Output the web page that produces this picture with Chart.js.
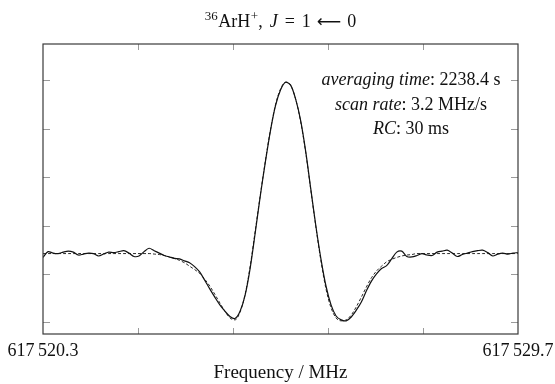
<!DOCTYPE html>
<html>
<head>
<meta charset="utf-8">
<script src="https://cdn.jsdelivr.net/npm/chart.js@4.4.0/dist/chart.umd.min.js"></script>
<style>
  html, body { margin: 0; padding: 0; background: #fff; }
</style>
</head>
<body>
<canvas id="chart" width="555" height="384"></canvas>
<script>
// frequency grid (MHz)
const freqs = [
    617520.3, 617520.4, 617520.5, 617520.6, 617520.7, 617520.8, 617520.9, 617521.0, 617521.1, 617521.2,
    617521.3, 617521.4, 617521.5, 617521.6, 617521.7, 617521.8, 617521.9, 617522.0, 617522.1, 617522.2,
    617522.3, 617522.4, 617522.5, 617522.6, 617522.7, 617522.8, 617522.9, 617523.0, 617523.1, 617523.2,
    617523.3, 617523.4, 617523.5, 617523.6, 617523.7, 617523.8, 617523.9, 617524.0, 617524.1, 617524.2,
    617524.3, 617524.4, 617524.5, 617524.6, 617524.7, 617524.8, 617524.9, 617525.0, 617525.1, 617525.2,
    617525.3, 617525.4, 617525.5, 617525.6, 617525.7, 617525.8, 617525.9, 617526.0, 617526.1, 617526.2,
    617526.3, 617526.4, 617526.5, 617526.6, 617526.7, 617526.8, 617526.9, 617527.0, 617527.1, 617527.2,
    617527.3, 617527.4, 617527.5, 617527.6, 617527.7, 617527.8, 617527.9, 617528.0, 617528.1, 617528.2,
    617528.3, 617528.4, 617528.5, 617528.6, 617528.7, 617528.8, 617528.9, 617529.0, 617529.1, 617529.2,
    617529.3, 617529.4, 617529.5, 617529.6, 617529.7
];

// measured signal (arb. units)
const measured = [
    1.34, 1.46, 1.43, 1.42, 1.45, 1.47, 1.45, 1.39, 1.41, 1.43,
    1.42, 1.37, 1.41, 1.45, 1.44, 1.46, 1.48, 1.43, 1.36, 1.37,
    1.46, 1.53, 1.48, 1.43, 1.38, 1.35, 1.32, 1.31, 1.27, 1.23,
    1.15, 1.04, 0.87, 0.69, 0.52, 0.36, 0.23, 0.12, 0.08, 0.23,
    0.56, 1.12, 1.85, 2.61, 3.31, 3.95, 4.47, 4.80, 4.96, 4.90,
    4.61, 4.16, 3.52, 2.75, 1.99, 1.31, 0.75, 0.36, 0.13, 0.05,
    0.03, 0.11, 0.25, 0.42, 0.65, 0.85, 1.00, 1.11, 1.17, 1.31,
    1.45, 1.47, 1.36, 1.35, 1.38, 1.42, 1.39, 1.38, 1.45, 1.47,
    1.49, 1.43, 1.36, 1.40, 1.43, 1.46, 1.48, 1.49, 1.44, 1.37,
    1.41, 1.43, 1.41, 1.43, 1.44
];

// fitted line profile (arb. units)
const fitted = [
    1.42, 1.42, 1.42, 1.42, 1.42, 1.42, 1.42, 1.42, 1.42, 1.42,
    1.42, 1.42, 1.42, 1.42, 1.42, 1.42, 1.42, 1.42, 1.42, 1.42,
    1.42, 1.42, 1.41, 1.40, 1.38, 1.35, 1.32, 1.28, 1.23, 1.16,
    1.09, 1.01, 0.89, 0.75, 0.58, 0.40, 0.23, 0.09, 0.05, 0.21,
    0.58, 1.16, 1.89, 2.63, 3.33, 3.97, 4.49, 4.82, 4.96, 4.90,
    4.61, 4.14, 3.50, 2.73, 1.97, 1.27, 0.69, 0.30, 0.09, 0.03,
    0.05, 0.15, 0.32, 0.52, 0.73, 0.92, 1.06, 1.16, 1.25, 1.30,
    1.34, 1.37, 1.39, 1.40, 1.42, 1.42, 1.42, 1.42, 1.42, 1.42,
    1.42, 1.42, 1.42, 1.42, 1.42, 1.42, 1.42, 1.42, 1.42, 1.42,
    1.42, 1.42, 1.42, 1.42, 1.42
];

const xTickValues = [617520.3, 617522.18, 617524.06, 617525.94, 617527.82, 617529.7];
const xTickLabels = ['617\u2009520.3', '', '', '', '', '617\u2009529.7'];
const yTickValues = [0, 1, 2, 3, 4, 5];

const xAxisTitle = 'Frequency / MHz';
const infoLines = [
    ['averaging time', ': 2238.4 s'],
    ['scan rate', ': 3.2 MHz/s'],
    ['RC', ': 30 ms']
];

const SERIF = '"Liberation Serif", "DejaVu Serif", serif';

// 제목, 주석, 안쪽 눈금, 테두리
const framePlugin = {
    id: 'frame',
    afterDraw(chart) {
        const { ctx, chartArea: a, scales: { x, y } } = chart;
        ctx.save();

        // inner ticks
        ctx.strokeStyle = '#9a9a9a';
        ctx.lineWidth = 1;
        ctx.beginPath();
        x.ticks.forEach((t, i) => {
            if (i === 0 || i === x.ticks.length - 1) return;
            const px = Math.round(x.getPixelForValue(t.value)) + 0.5;
            ctx.moveTo(px, a.bottom); ctx.lineTo(px, a.bottom - 6);
            ctx.moveTo(px, a.top); ctx.lineTo(px, a.top + 6);
        });
        y.ticks.forEach(t => {
            const py = Math.round(y.getPixelForValue(t.value)) + 0.5;
            ctx.moveTo(a.left, py); ctx.lineTo(a.left + 7, py);
            ctx.moveTo(a.right, py); ctx.lineTo(a.right - 7, py);
        });
        ctx.stroke();

        // frame
        ctx.strokeStyle = '#3a3a3a';
        ctx.lineWidth = 1.2;
        ctx.strokeRect(a.left, a.top, a.right - a.left, a.bottom - a.top);

        ctx.fillStyle = '#111';
        ctx.textBaseline = 'alphabetic';
        ctx.textAlign = 'left';

        // title: 36ArH+, J = 1 <- 0
        const parts = [
            { t: '36', f: '13px ' + SERIF, dy: -7, gap: 0.5 },
            { t: 'ArH', f: '18px ' + SERIF, dy: 0, gap: 0.5 },
            { t: '+', f: '13px ' + SERIF, dy: -7, gap: 0 },
            { t: ',', f: '18px ' + SERIF, dy: 0, gap: 7 },
            { t: 'J', f: 'italic 18px ' + SERIF, dy: 0, gap: 7 },
            { t: '=', f: '18px ' + SERIF, dy: 0, gap: 7 },
            { t: '1', f: '18px ' + SERIF, dy: 0, gap: 6 },
            { t: '\u27F5', f: '17px "DejaVu Sans", sans-serif', dy: -0.5, gap: 6 },
            { t: '0', f: '18px ' + SERIF, dy: 0, gap: 0 }
        ];
        let w = 0;
        parts.forEach(p => { ctx.font = p.f; p.w = ctx.measureText(p.t).width; w += p.w + p.gap; });
        let cx = (a.left + a.right) / 2 - w / 2;
        parts.forEach(p => { ctx.font = p.f; ctx.fillText(p.t, cx, 27 + p.dy); cx += p.w + p.gap; });

        // info block
        const baseY = [85, 109.5, 134];
        infoLines.forEach((ln, i) => {
            ctx.font = 'italic 18px ' + SERIF;
            const w1 = ctx.measureText(ln[0]).width;
            ctx.font = '18px ' + SERIF;
            const w2 = ctx.measureText(ln[1]).width;
            const sx = 411 - (w1 + w2) / 2;
            ctx.font = 'italic 18px ' + SERIF;
            ctx.fillText(ln[0], sx, baseY[i]);
            ctx.font = '18px ' + SERIF;
            ctx.fillText(ln[1], sx + w1, baseY[i]);
        });

        ctx.restore();
    }
};

const ctx = document.getElementById('chart').getContext('2d');
new Chart(ctx, {
    type: 'line',
    data: {
        datasets: [
            {
                label: 'measured',
                data: freqs.map((f, i) => ({ x: f, y: measured[i] })),
                borderColor: '#111',
                borderWidth: 1.2,
                pointRadius: 0,
                tension: 0.3,
                fill: false
            },
            {
                label: 'fit',
                data: freqs.map((f, i) => ({ x: f, y: fitted[i] })),
                borderColor: '#2a2a2a',
                borderWidth: 1,
                borderDash: [3, 2],
                pointRadius: 0,
                cubicInterpolationMode: 'monotone',
                fill: false
            }
        ]
    },
    options: {
        responsive: false,
        animation: false,
        layout: { padding: { left: 43, right: 37, top: 44, bottom: 0 } },
        plugins: {
            legend: { display: false },
            tooltip: { enabled: false },
            title: { display: false }
        },
        scales: {
            x: {
                type: 'linear',
                min: 617520.3,
                max: 617529.7,
                afterBuildTicks: s => { s.ticks = xTickValues.map(v => ({ value: v })); },
                afterFit: s => { s.height = 50; s.paddingLeft = 0; s.paddingRight = 0; },
                grid: { display: false, drawTicks: false },
                border: { display: false },
                ticks: {
                    callback: (v, i) => xTickLabels[i],
                    autoSkip: false,
                    maxRotation: 0,
                    padding: 6,
                    color: '#111',
                    font: { family: SERIF, size: 18 }
                },
                title: {
                    display: true,
                    text: xAxisTitle,
                    color: '#111',
                    font: { family: SERIF, size: 19 },
                    padding: { top: 0, bottom: 0 }
                }
            },
            y: {
                min: -0.2417,
                max: 5.75,
                afterBuildTicks: s => { s.ticks = yTickValues.map(v => ({ value: v })); },
                afterFit: s => { s.width = 0; },
                grid: { display: false, drawTicks: false },
                border: { display: false },
                ticks: { display: false }
            }
        }
    },
    plugins: [framePlugin]
});
</script>
</body>
</html>
